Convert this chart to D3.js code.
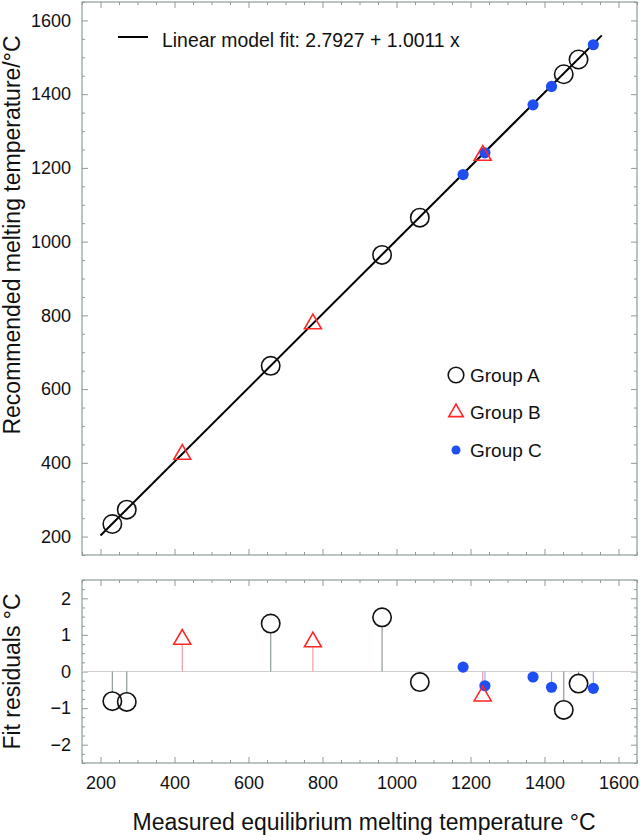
<!DOCTYPE html>
<html>
<head>
<meta charset="utf-8">
<script src="https://cdn.jsdelivr.net/npm/d3@7"></script>
<style>
	body{margin:0;background:#fff;}
	svg{font-family:"Liberation Sans",Arial,Helvetica,sans-serif;}
</style>
</head>
<body>
<div id="chart"></div>
<script>
// ---- data ----
const groupAMeasured    = [232, 271, 660, 961, 1063, 1452, 1492];
const groupARecommended = [234, 273, 663, 964, 1065, 1454, 1494];
const groupAResiduals   = [-0.81, -0.83, 1.31, 1.48, -0.29, -1.05, -0.33];

const groupBMeasured    = [421, 774, 1233];
const groupBRecommended = [423, 777, 1234];
const groupBResiduals   = [0.88, 0.81, -0.67];

const groupCMeasured    = [1180, 1239, 1369, 1419, 1532];
const groupCRecommended = [1182, 1241, 1371, 1421, 1534];
const groupCResiduals   = [0.12, -0.39, -0.15, -0.43, -0.46];

const xTicks = [200, 400, 600, 800, 1000, 1200, 1400, 1600];
const yTicks = [200, 400, 600, 800, 1000, 1200, 1400, 1600];
const residTicks = [-2, -1, 0, 1, 2];

const fitIntercept = 2.7927;
const fitSlope = 1.0011;
const fitRange = [200, 1555];

const groupNames = ["Group A", "Group B", "Group C"];

// ---- layout ----
const W = 640, H = 835;
const left = 82, right = 637;
const top1 = 2, bottom1 = 555;
const top2 = 580, bottom2 = 763;
const frameColor = "#8d9d98";

const groups = [
	{name: groupNames[0], shape: "circle", mx: groupAMeasured, my: groupARecommended, res: groupAResiduals, stroke: "#111", stem: "#8f9c98"},
	{name: groupNames[1], shape: "triangle", mx: groupBMeasured, my: groupBRecommended, res: groupBResiduals, stroke: "#ff2626", stem: "#f29aa4"},
	{name: groupNames[2], shape: "dot", mx: groupCMeasured, my: groupCRecommended, res: groupCResiduals, stroke: "#1f4ef2", stem: "#9db0f2"}
];
// draw order: A, C, then B on top
const drawOrder = [groups[0], groups[2], groups[1]];

const x = d3.scaleLinear().domain([150, 1650]).range([left, right]);
const y = d3.scaleLinear().domain([150, 1650]).range([bottom1, top1]);
const yr = d3.scaleLinear().domain([-2.5, 2.5]).range([bottom2, top2]);

const svg = d3.select("#chart").append("svg")
	.attr("width", W)
	.attr("height", H);

const circleR = 9.2, dotR = 5.6, triSide = 17;

function marker(g, shape, cx, cy, color, scale = 1){
	if (shape == "circle") {
		g.append("circle").attr("cx", cx).attr("cy", cy).attr("r", circleR*scale)
			.attr("fill", "none").attr("stroke", color).attr("stroke-width", 1.6);
	}
	else if (shape == "dot") {
		g.append("circle").attr("cx", cx).attr("cy", cy).attr("r", dotR*scale)
			.attr("fill", color);
	}
	else {
		const s = triSide*scale, h = s*Math.sqrt(3)/2;
		const pts = [[cx, cy - h*2/3], [cx - s/2, cy + h/3], [cx + s/2, cy + h/3]];
		g.append("path").attr("d", "M" + pts.join("L") + "Z")
			.attr("fill", "none").attr("stroke", color).attr("stroke-width", 1.6)
			.attr("stroke-linejoin", "miter");
	}
}

// frame with inward ticks on all four sides
function frame(g, ys, yMajor, yMinor, fmt, showX){
	const minorX = d3.range(150, 1651, 50).filter(v => xTicks.indexOf(v) < 0);
	const y0 = ys.range()[0], y1 = ys.range()[1];

	const axes = [
		[d3.axisBottom(x).tickValues(xTicks), `translate(0,${y0})`, showX ? d3.format("d") : ""],
		[d3.axisTop(x).tickValues(xTicks), `translate(0,${y1})`, ""],
		[d3.axisLeft(ys).tickValues(yMajor), `translate(${left},0)`, fmt],
		[d3.axisRight(ys).tickValues(yMajor), `translate(${right},0)`, ""]
	];
	const minors = [
		[d3.axisBottom(x).tickValues(minorX), `translate(0,${y0})`],
		[d3.axisTop(x).tickValues(minorX), `translate(0,${y1})`],
		[d3.axisLeft(ys).tickValues(yMinor), `translate(${left},0)`],
		[d3.axisRight(ys).tickValues(yMinor), `translate(${right},0)`]
	];

	axes.forEach(([ax, tr, f], i) => {
		const a = g.append("g").attr("transform", tr)
			.call(ax.tickSizeInner(-6).tickSizeOuter(0).tickPadding(i == 2 ? 11 : 13).tickFormat(f));
		a.select(".domain").remove();
		a.selectAll("line").attr("stroke", frameColor);
		a.selectAll("text").attr("fill", "#111").style("font-size", "18px");
	});
	minors.forEach(([ax, tr]) => {
		const a = g.append("g").attr("transform", tr)
			.call(ax.tickSizeInner(-3).tickSizeOuter(0).tickFormat(""));
		a.select(".domain").remove();
		a.selectAll("line").attr("stroke", frameColor);
	});

	g.append("rect")
		.attr("x", left).attr("y", y1)
		.attr("width", right - left).attr("height", y0 - y1)
		.attr("fill", "none").attr("stroke", frameColor).attr("stroke-width", 1.2);
}

// ---- top panel ----
const topG = svg.append("g");
const minorY = d3.range(150, 1651, 50).filter(v => yTicks.indexOf(v) < 0);
frame(topG, y, yTicks, minorY, d3.format("d"), false);

// fit line
topG.append("line")
	.attr("x1", x(fitRange[0])).attr("y1", y(fitIntercept + fitSlope*fitRange[0]))
	.attr("x2", x(fitRange[1])).attr("y2", y(fitIntercept + fitSlope*fitRange[1]))
	.attr("stroke", "#000").attr("stroke-width", 2);

drawOrder.forEach(grp => {
	grp.mx.forEach((v, i) => marker(topG, grp.shape, x(v), y(grp.my[i]), grp.stroke));
});

// legend for the fit
topG.append("line")
	.attr("x1", 118).attr("x2", 148).attr("y1", 37).attr("y2", 37)
	.attr("stroke", "#000").attr("stroke-width", 2);
topG.append("text")
	.attr("x", 162).attr("y", 47)
	.style("font-size", "19.4px").attr("fill", "#111")
	.text(`Linear model fit: ${fitIntercept} + ${fitSlope} x`);

// group legend
const legend = topG.append("g");
groups.forEach((grp, i) => {
	const ly = 375 + i*37.5;
	marker(legend, grp.shape, 456, ly, grp.stroke, grp.shape == "dot" ? 0.8 : 0.85);
	legend.append("text")
		.attr("x", 470).attr("y", ly + 6.8)
		.style("font-size", "19px").attr("fill", "#111")
		.text(grp.name);
});

// ---- residual panel ----
const botG = svg.append("g");
const minorR = d3.range(-2.5, 2.51, 0.25).filter(v => Math.abs(v - Math.round(v)) > 1e-6);
frame(botG, yr, residTicks, minorR, d => d < 0 ? "\u2212" + Math.abs(d) : String(d), true);

botG.append("line")
	.attr("x1", left).attr("x2", right)
	.attr("y1", yr(0)).attr("y2", yr(0))
	.attr("stroke", "#cfcfcf").attr("stroke-width", 1.2);

// stems from zero to each marker edge
drawOrder.forEach(grp => {
	grp.mx.forEach((v, i) => {
		const r = grp.res[i];
		const cy = yr(r);
		let gap;
		if (grp.shape == "circle") gap = circleR;
		else if (grp.shape == "dot") gap = dotR*0.5;
		else gap = r > 0 ? triSide*Math.sqrt(3)/6 : triSide*Math.sqrt(3)/3;
		const end = r > 0 ? cy + gap : cy - gap;
		botG.append("line")
			.attr("x1", x(v)).attr("x2", x(v))
			.attr("y1", yr(0)).attr("y2", end)
			.attr("stroke", grp.stem).attr("stroke-width", 1.2);
	});
});
drawOrder.forEach(grp => {
	grp.mx.forEach((v, i) => marker(botG, grp.shape, x(v), yr(grp.res[i]), grp.stroke));
});

// ---- axis titles ----
svg.append("text")
	.attr("x", 364).attr("y", 830)
	.attr("text-anchor", "middle")
	.style("font-size", "23px").attr("fill", "#111")
	.text("Measured equilibrium melting temperature \u00B0C");

svg.append("text")
	.attr("transform", "translate(20,235) rotate(-90)")
	.attr("text-anchor", "middle")
	.style("font-size", "23px").attr("fill", "#111")
	.text("Recommended melting temperature/\u00B0C");

svg.append("text")
	.attr("transform", `translate(20,${(top2 + bottom2)/2}) rotate(-90)`)
	.attr("text-anchor", "middle")
	.style("font-size", "23px").attr("fill", "#111")
	.text("Fit residuals \u00B0C");
</script>
</body>
</html>
